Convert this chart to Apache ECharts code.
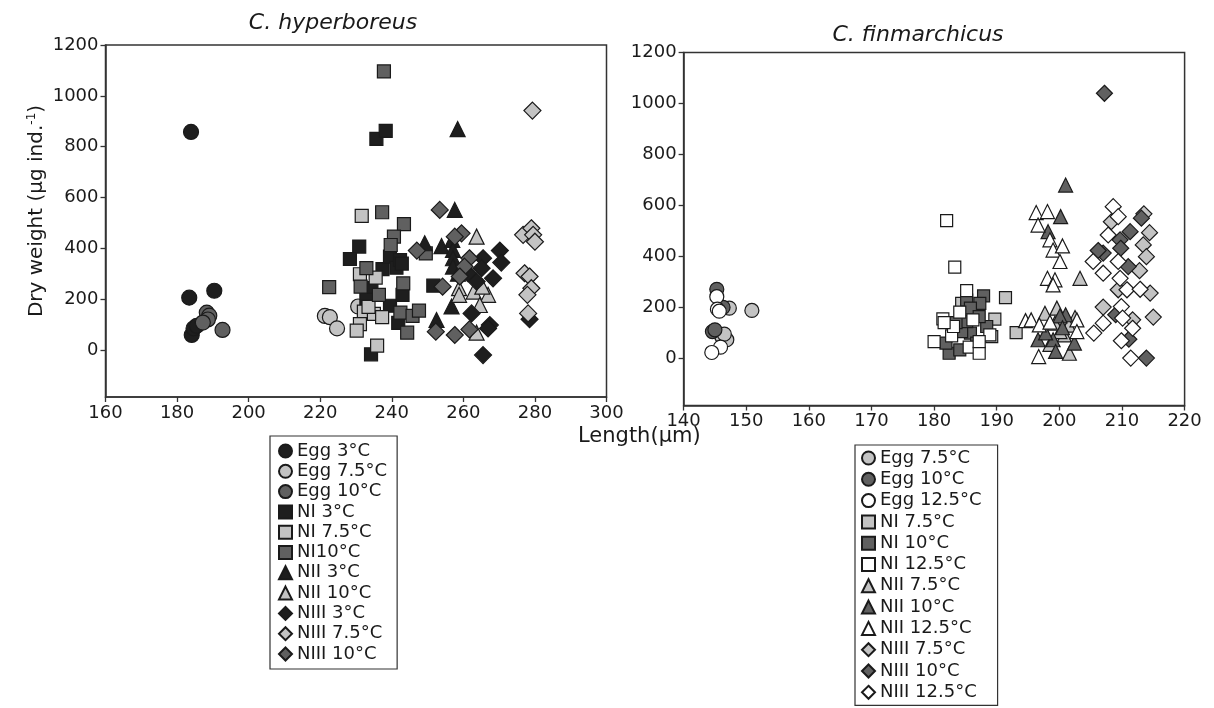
<!DOCTYPE html>
<html><head><meta charset="utf-8">
<script src="https://cdn.jsdelivr.net/npm/echarts@6/dist/echarts.min.js"></script>
<style>html,body{margin:0;padding:0;background:#fff}#c{width:1214px;height:708px}</style>
</head><body><div id="c"></div>
<script>
// ---- C. hyperboreus (left panel) ----
const hypEgg3   = [[183.9,858],[183.4,206],[190.4,233],[184.1,59],[184.6,85],[185.5,95]];
const hypEgg75  = [[221.3,134],[222.7,129],[224.7,85],[230.6,171]];
const hypEgg10  = [[188.3,147],[189.0,135],[188.6,120],[187.2,108],[192.7,79]];
const hypNI3    = [[235.7,831],[238.3,862],[230.9,407],[228.3,358],[234.3,243],[232.9,197],[237.4,318],[239.5,367],[241.3,324],[242.3,354],[239.5,174],[243.0,217],[241.8,107],[234.2,-17],[251.6,253],[242.8,340]];
const hypNI75   = [[231.6,528],[231.1,298],[235.5,285],[232.2,151],[235.0,142],[237.3,129],[231.1,102],[230.2,76],[235.9,17],[233.5,170]];
const hypNI10   = [[237.8,1096],[237.3,542],[243.4,495],[240.6,446],[239.7,413],[232.9,322],[231.3,249],[236.4,217],[243.2,262],[242.4,147],[245.8,134],[244.3,68],[222.5,247],[247.6,155],[249.5,380]];
const hypNII3   = [[258.4,869],[257.6,551],[249.2,420],[253.9,409],[256.9,433],[257.1,394],[257.1,361],[257.1,328],[256.7,171],[252.5,118],[258.5,300]];
const hypNII10  = [[263.7,446],[258.8,243],[258.8,217],[262.9,230],[266.9,217],[264.6,177],[263.7,68],[265.3,249]];
const hypNIII3  = [[270.2,391],[270.6,344],[265.5,361],[265.1,322],[268.3,282],[263.7,269],[262.3,144],[267.4,98],[266.9,85],[265.5,-20],[278.5,121],[261.3,302]];
const hypNIII75 = [[279.3,942],[276.7,453],[279.0,479],[279.5,453],[280.0,426],[277.1,302],[278.5,289],[279.0,243],[277.9,217],[278.1,144]];
const hypNIII10 = [[253.4,551],[247.0,391],[259.5,459],[257.6,446],[261.7,361],[260.3,328],[259.0,289],[254.2,249],[252.3,72],[257.6,59],[261.7,81]];

// ---- C. finmarchicus (right panel) ----
const finEgg75   = [[147.3,197],[150.9,188],[146.1,85],[146.9,73],[146.5,95]];
const finEgg10   = [[145.3,271],[146.3,200],[144.6,105],[145.0,112]];
const finEgg125  = [[145.3,242],[145.4,193],[145.9,44],[144.5,23],[145.7,185]];
const finNI75    = [[191.4,238],[189.7,154],[193.1,101],[189.2,85],[184.4,216]];
const finNI10    = [[187.9,245],[187.3,216],[185.2,229],[185.8,197],[188.4,125],[185.8,99],[184.4,105],[182.4,20],[184.1,33],[181.9,60],[187.2,164],[185.2,144],[183.5,140],[186.8,60]];
const finNI125   = [[182.0,540],[183.3,358],[185.2,266],[181.4,155],[184.1,181],[186.2,151],[188.9,92],[182.8,88],[180.0,66],[185.6,44],[187.2,20],[187.2,66],[183.1,125],[181.6,140]];
const finNII75   = [[203.3,314],[199.6,197],[197.7,177],[200.8,92],[201.6,20],[200.1,105],[199.3,138],[202.5,160],[201.5,130],[198.5,55]];
const finNII10   = [[201.0,680],[200.2,556],[198.2,497],[201.0,171],[200.1,167],[196.6,73],[199.0,73],[199.4,27],[202.4,60],[197.8,100],[200.5,120]];
const finNII125  = [[196.3,572],[198.1,576],[196.6,523],[198.5,465],[199.0,425],[200.5,441],[200.1,380],[198.1,314],[199.3,308],[199.0,288],[194.6,148],[195.5,151],[196.8,131],[198.5,142],[202.8,151],[202.8,105],[196.7,7]];
const finNIII75  = [[213.5,567],[214.4,493],[213.4,445],[213.9,399],[212.8,344],[214.5,256],[207.0,201],[215.0,162],[208.3,536],[209.4,269],[211.7,151]];
const finNIII10  = [[207.2,1040],[213.1,550],[211.3,497],[209.7,465],[207.0,413],[209.8,432],[211.0,360],[209.0,171],[211.1,75],[213.9,1],[206.2,423]];
const finNIII125 = [[208.6,595],[209.4,556],[207.8,484],[205.4,380],[207.0,334],[209.4,380],[209.7,314],[210.8,269],[212.9,271],[209.9,203],[210.1,158],[211.7,118],[207.0,138],[205.5,99],[209.9,69],[211.4,1]];

const yTicks = [0,200,400,600,800,1000,1200];

const BLACK='#1e1e1e', DARK='#606060', LIGHT='#c3c3c3', WHITE='#ffffff';
const FONT='DejaVu Sans';

function S(name, data, sym, fill, gi, size){
  return {name, type:'scatter', xAxisIndex:gi, yAxisIndex:gi, data, symbol:sym, symbolSize:size,
    itemStyle:{color:fill, borderColor:'#1a1a1a', borderWidth:1.2, opacity:1}};
}
const series = [
  S('L|Egg 3°C', hypEgg3,'circle',BLACK,0,15),
  S('L|Egg 7.5°C', hypEgg75,'circle',LIGHT,0,15),
  S('L|Egg 10°C', hypEgg10,'circle',DARK,0,15),
  S('L|NI 3°C', hypNI3,'rect',BLACK,0,13),
  S('L|NI 7.5°C', hypNI75,'rect',LIGHT,0,13),
  S('L|NI10°C', hypNI10,'rect',DARK,0,13),
  S('L|NII 3°C', hypNII3,'triangle',BLACK,0,15),
  S('L|NII 10°C', hypNII10,'triangle',LIGHT,0,15),
  S('L|NIII 3°C', hypNIII3,'diamond',BLACK,0,17),
  S('L|NIII 7.5°C', hypNIII75,'diamond',LIGHT,0,17),
  S('L|NIII 10°C', hypNIII10,'diamond',DARK,0,17),
  S('R|Egg 7.5°C', finEgg75,'circle',LIGHT,1,14),
  S('R|Egg 10°C', finEgg10,'circle',DARK,1,14),
  S('R|Egg 12.5°C', finEgg125,'circle',WHITE,1,14),
  S('R|NI 7.5°C', finNI75,'rect',LIGHT,1,12),
  S('R|NI 10°C', finNI10,'rect',DARK,1,12),
  S('R|NI 12.5°C', finNI125,'rect',WHITE,1,12),
  S('R|NII 7.5°C', finNII75,'triangle',LIGHT,1,14),
  S('R|NII 10°C', finNII10,'triangle',DARK,1,14),
  S('R|NII 12.5°C', finNII125,'triangle',WHITE,1,14),
  S('R|NIII 7.5°C', finNIII75,'diamond',LIGHT,1,16),
  S('R|NIII 10°C', finNIII10,'diamond',DARK,1,16),
  S('R|NIII 12.5°C', finNIII125,'diamond',WHITE,1,16)
];

const axLine={onZero:false,lineStyle:{color:'#333',width:1.5}};
const lbl={color:'#1a1a1a',fontSize:18,fontFamily:FONT,formatter:v=>String(v)};
function xAx(gi,min,max,iv){return {gridIndex:gi,type:'value',min,max,interval:iv,axisLine:axLine,
  axisTick:{length:5,lineStyle:{color:'#333',width:1.3}},splitLine:{show:false},axisLabel:Object.assign({margin:7},lbl)};}
function yAx(gi){return {gridIndex:gi,type:'value',min:-185,max:1200,axisLine:axLine,
  axisTick:{length:5,customValues:yTicks,lineStyle:{color:'#333',width:1.3}},splitLine:{show:false},
  axisLabel:Object.assign({margin:7,customValues:yTicks},lbl)};}

const y0 = yAx(0);
y0.name='Dry weight (µg ind.{sup|-1})';
y0.nameLocation='middle'; y0.nameGap=58; y0.nameRotate=90;
y0.nameTextStyle={fontSize:20,fontFamily:FONT,color:'#1a1a1a',padding:[0,0,0,20],
  rich:{sup:{fontSize:12,fontFamily:FONT,color:'#1a1a1a',padding:[0,0,10,0]}}};

const legStyle={orient:'vertical',borderColor:'#333',borderWidth:1.2,itemWidth:13,itemHeight:13,
  textStyle:{fontSize:18,fontFamily:FONT,color:'#1a1a1a',lineHeight:18},
  formatter:n=>n.slice(2),selectedMode:false};

const option={
  animation:false,
  backgroundColor:'#fff',
  title:[
    {text:'C. hyperboreus',left:328,top:7,textAlign:'center',textStyle:{fontSize:22,fontStyle:'italic',fontWeight:'normal',fontFamily:FONT,color:'#1a1a1a'}},
    {text:'C. finmarchicus',left:913,top:19,textAlign:'center',textStyle:{fontSize:22,fontStyle:'italic',fontWeight:'normal',fontFamily:FONT,color:'#1a1a1a'}}
  ],
  grid:[
    {left:105.5,top:45,width:501,height:352,show:true,borderColor:'#333',borderWidth:1.5,backgroundColor:'transparent'},
    {left:683.6,top:52.5,width:501,height:353,show:true,borderColor:'#333',borderWidth:1.5,backgroundColor:'transparent'}
  ],
  xAxis:[xAx(0,160,300,20), xAx(1,140,220,10)],
  yAxis:[y0, yAx(1)],
  legend:[
    Object.assign({left:270,top:436,padding:[6,10,6,8],itemGap:2.3,
      data:series.filter(s=>s.name[0]==='L').map(s=>s.name)},legStyle),
    Object.assign({left:855,top:445,bottom:0,padding:[4,16,4,6],itemGap:3.3,
      data:series.filter(s=>s.name[0]==='R').map(s=>s.name)},legStyle)
  ],
  graphic:[{type:'text',left:578,top:426,style:{text:'Length(µm)',fontSize:21,fontFamily:FONT,fill:'#1a1a1a'}}],
  series
};
echarts.init(document.getElementById('c')).setOption(option);
</script></body></html>
